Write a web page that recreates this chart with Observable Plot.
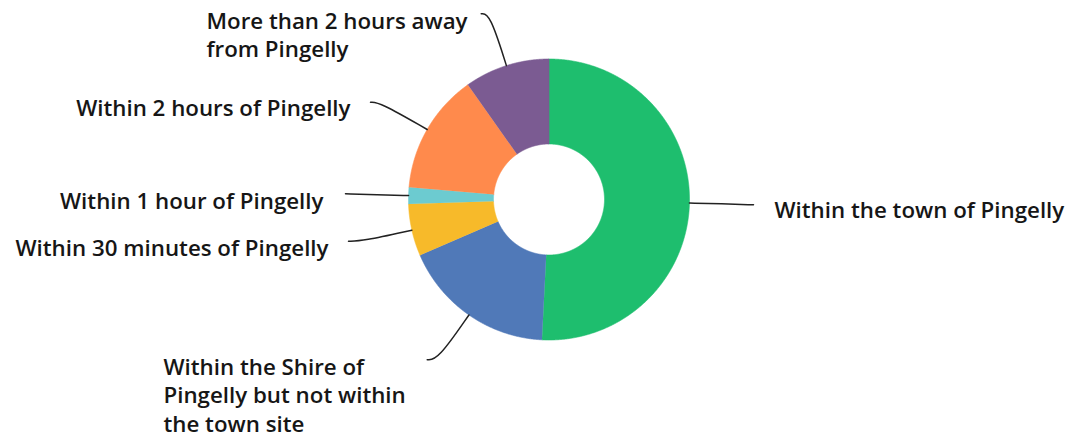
<!DOCTYPE html>
<html><head><meta charset="utf-8">
<script src="https://cdn.jsdelivr.net/npm/d3@7"></script>
<script src="https://cdn.jsdelivr.net/npm/@observablehq/plot@0.6"></script>
<style>body{margin:0;background:#fff;}</style>
</head><body><div id="chart"></div>
<script>
// ---- data ----
const categories = [
  "Within the town of Pingelly",
  "Within the Shire of Pingelly but not within the town site",
  "Within 30 minutes of Pingelly",
  "Within 1 hour of Pingelly",
  "Within 2 hours of Pingelly",
  "More than 2 hours away from Pingelly"
];
const values = [50.8, 17.7, 6.0, 1.9, 13.8, 9.8];
const labelTexts = [
  "Within the town of Pingelly",
  "Within the Shire of\nPingelly but not within\nthe town site",
  "Within 30 minutes of Pingelly",
  "Within 1 hour of Pingelly",
  "Within 2 hours of Pingelly",
  "More than 2 hours away\nfrom Pingelly"
];
const colors = ["#1ebe6e", "#5079b8", "#f7ba2a", "#6ccbd0", "#ff8a4c", "#7b5b92"];

// ---- layout ----
const W = 1077, H = 441;
const cx = 548.5, cy = 199, rOuter = 140.5, rInner = 55.5;
const fontSize = 22.3, lineHeight = 1.3;
const leaderEnds = [[753, 204.3], [426.7, 359.3], [348, 240.7], [345, 193.3], [370, 101.7], [480.7, 13.3]];
// [x, first-line baseline, anchor]
const labelAnchors = [[774, 217.5, "start"], [163, 374, "start"], [328, 255, "end"], [323, 208, "end"], [350, 115, "end"], [206, 28, "start"]];

const arcs = d3.pie().sort(null).value(d => d)(values);
const pt = (a, r) => [cx + r * Math.sin(a), cy - r * Math.cos(a)];

const slicePts = [];
arcs.forEach((a, i) => {
  const n = Math.max(2, Math.ceil((a.endAngle - a.startAngle) / 0.005));
  const cat = categories[i];
  for (let k = 0; k <= n; k++) {
    const t = a.startAngle + (a.endAngle - a.startAngle) * k / n;
    const [x, y] = pt(t, rOuter);
    slicePts.push({cat, x, y});
  }
  for (let k = n; k >= 0; k--) {
    const t = a.startAngle + (a.endAngle - a.startAngle) * k / n;
    const [x, y] = pt(t, rInner);
    slicePts.push({cat, x, y});
  }
});

const leaderPts = [];
arcs.forEach((a, i) => {
  const m = (a.startAngle + a.endAngle) / 2;
  const [sx, sy] = pt(m, rOuter);
  const [ex, ey] = leaderEnds[i];
  const dx = Math.sin(m), dy = -Math.cos(m);
  let t = Math.abs(dy) > 0.05 ? (ey - sy) / dy : Math.abs(ex - sx) * 0.5;
  const tMax = Math.abs(dx) > 1e-6 ? 0.85 * Math.abs(ex - sx) / Math.abs(dx) : t;
  t = Math.max(0, Math.min(t, tMax));
  const c = [sx + dx * t, sy + dy * t];
  const cat = categories[i];
  leaderPts.push({cat, x: sx, y: sy}, {cat, x: c[0], y: c[1]}, {cat, x: ex, y: ey});
});

// Plot's lineAnchor "top" places the first baseline 0.71 * lineHeight em below y
const topOffset = 0.71 * lineHeight * fontSize;
const labels = categories.map((c, i) => ({
  cat: c, text: labelTexts[i], x: labelAnchors[i][0], y: labelAnchors[i][1] - topOffset, anchor: labelAnchors[i][2]
}));

const textOpts = {
  x: "x", y: "y", text: "text", lineAnchor: "top", fontSize, fontWeight: 600,
  fontFamily: "Open Sans", fill: "#161616", lineHeight
};

const chart = Plot.plot({
  width: W, height: H,
  margin: 0,
  x: {domain: [0, W], range: [0, W], axis: null},
  y: {domain: [0, H], range: [0, H], axis: null},
  color: {domain: categories, range: colors},
  marks: [
    Plot.line(slicePts, {x: "x", y: "y", z: "cat", fill: "cat", stroke: "cat", strokeWidth: 0.6, curve: "linear"}),
    Plot.line(leaderPts, {x: "x", y: "y", z: "cat", stroke: "#222", strokeWidth: 1.5, curve: "basis"}),
    Plot.text(labels.filter(d => d.anchor === "start"), {...textOpts, textAnchor: "start"}),
    Plot.text(labels.filter(d => d.anchor === "end"), {...textOpts, textAnchor: "end"})
  ]
});
document.getElementById("chart").append(chart);
</script>
</body></html>
